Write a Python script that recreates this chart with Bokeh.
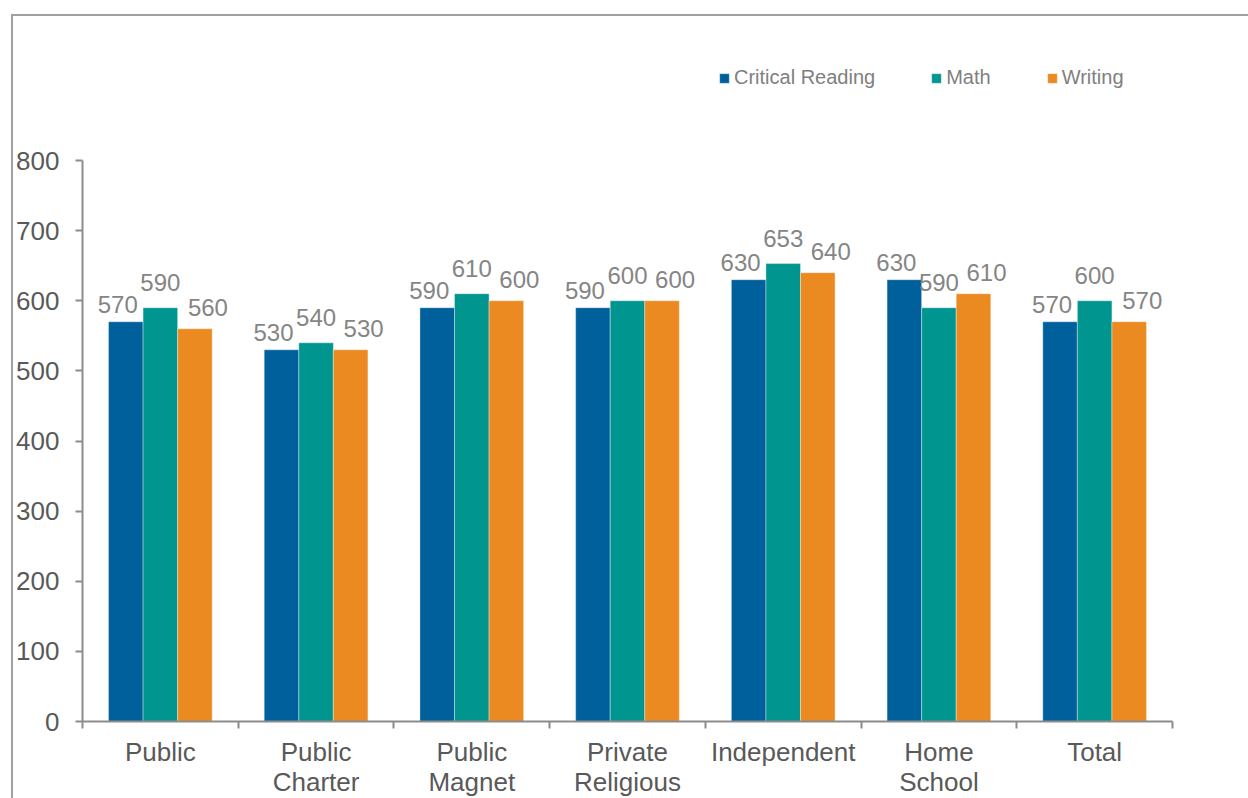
import numpy as np
from bokeh.plotting import figure
from bokeh.models import Range1d, FixedTicker, Legend, LegendItem, ColumnDataSource
from bokeh.embed import file_html
from bokeh.resources import INLINE
from bokeh.core.properties import value

# ---- data ----
categories = ["Public", "Public\nCharter", "Public\nMagnet", "Private\nReligious",
              "Independent", "Home\nSchool", "Total"]
series_names = ["Critical Reading", "Math", "Writing"]
critical_reading = [570, 530, 590, 590, 630, 630, 570]
math_scores = [590, 540, 610, 600, 653, 590, 600]
writing = [560, 530, 600, 600, 640, 610, 570]
y_ticks = [0, 100, 200, 300, 400, 500, 600, 700, 800]

series_values = [critical_reading, math_scores, writing]
colors = ["#00609C", "#00968F", "#EB8A21"]

FONT = "Liberation Sans"
AXIS_COLOR = "#8c8c8c"

# per-series label nudges (pixels), as in the original layout
label_dx = [-8, 0, 13]
label_dy = [-17, -25, -21]

n = len(categories)
centers = np.arange(n) + 0.5
bar_w = 0.222
offsets = [-bar_w, 0.0, bar_w]

# frame extends above the value axis to host the legend; axis limited by bounds
axis_px = 561          # pixel height of the 0..800 axis
frame_px = 681         # frame height including legend area
y_max = y_ticks[-1] * frame_px / axis_px

p = figure(frame_width=1090, frame_height=frame_px,
           x_range=Range1d(0, n), y_range=Range1d(0, y_max),
           output_backend="svg", toolbar_location=None,
           min_border_left=69, min_border_right=76,
           min_border_top=24, min_border_bottom=60)
p.margin = (14, 0, 0, 11)
p.styles = {"border-top": "2px solid #a0a0a0", "border-left": "2px solid #a0a0a0"}
p.outline_line_color = None
p.grid.visible = False
p.background_fill_color = "white"
p.border_fill_color = "white"

# x axis: labels at centers, ticks at category boundaries
xa = p.xaxis[0]
xa.ticker = FixedTicker(ticks=list(centers), minor_ticks=list(range(n + 1)))
xa.major_label_overrides = {float(c): lab for c, lab in zip(centers, categories)}
xa.major_tick_line_color = None
xa.major_tick_out = 7
xa.major_tick_in = 0
xa.minor_tick_out = 7
xa.minor_tick_in = 0
xa.minor_tick_line_color = AXIS_COLOR
xa.minor_tick_line_width = 2
xa.axis_line_color = AXIS_COLOR
xa.axis_line_width = 2
xa.major_label_text_font = FONT
xa.major_label_text_font_size = "26px"
xa.major_label_text_color = "#595959"
xa.major_label_text_line_height = 1.0
xa.major_label_standoff = 8

ya = p.yaxis[0]
ya.ticker = FixedTicker(ticks=y_ticks)
ya.bounds = (y_ticks[0], y_ticks[-1])
ya.major_tick_out = 7
ya.major_tick_in = 0
ya.major_tick_line_color = AXIS_COLOR
ya.major_tick_line_width = 2
ya.minor_tick_line_color = None
ya.axis_line_color = AXIS_COLOR
ya.axis_line_width = 2
ya.major_label_text_font = FONT
ya.major_label_text_font_size = "26px"
ya.major_label_text_color = "#595959"
ya.major_label_standoff = 16

items = []
for i, (name, vals) in enumerate(zip(series_names, series_values)):
    src = ColumnDataSource(dict(x=centers + offsets[i], top=vals,
                                label=[str(v) for v in vals]))
    r = p.vbar(x="x", top="top", bottom=0, width=bar_w, source=src,
               fill_color=colors[i], line_color="white", line_width=0.6, line_alpha=0.6)
    p.text(x="x", y="top", text="label", source=src,
           text_font=value(FONT), text_font_size="24px", text_color="#858585",
           text_align="center", text_baseline="alphabetic",
           x_offset=label_dx[i], y_offset=label_dy[i])
    items.append(LegendItem(label=name, renderers=[r]))

legend = Legend(items=items, orientation="horizontal", location=(636, 632),
                border_line_color=None, background_fill_alpha=0,
                padding=0, margin=0, spacing=55,
                glyph_width=12, glyph_height=12, label_standoff=4,
                label_text_font=FONT, label_text_font_size="20px",
                label_text_color="#808080")
p.add_layout(legend)

open("out.html", "w").write(file_html(p, INLINE))
